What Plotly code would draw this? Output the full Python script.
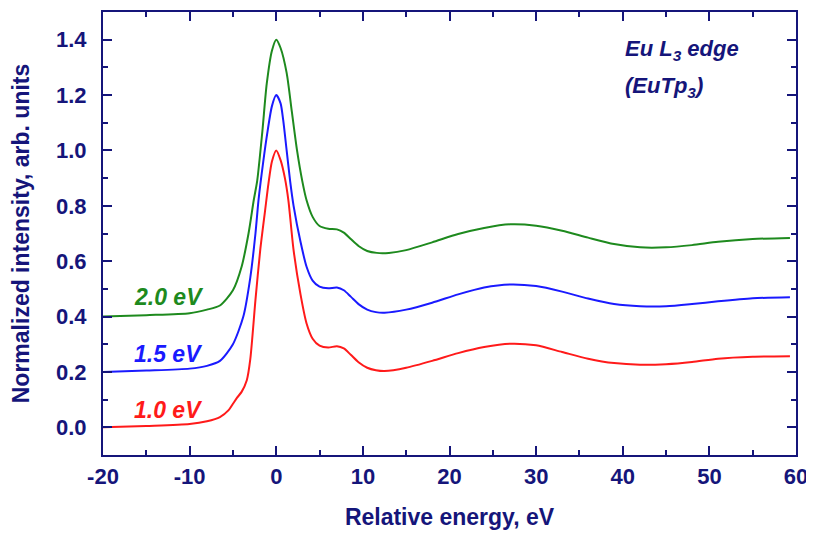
import plotly.graph_objects as go

# ---- data ----
x_red = [-20, -15, -10, -8, -6.5, -5.5, -5, -4.5, -4, -3.4, -3, -2.4, -1.85, -1.3, -0.9, -0.5, 0,
         0.5, 1.0, 1.4, 2.0, 2.8, 3.5, 4.2, 5.0, 6.0, 7.0, 7.8, 8.6, 9.5, 10.5, 11.5, 12.5, 15,
         18, 21, 24, 27, 30, 33, 36, 39, 42, 45, 48, 51, 55, 59.3]
y_red = [0.0, 0.005, 0.012, 0.022, 0.037, 0.062, 0.085, 0.108, 0.128, 0.17, 0.245, 0.46, 0.64,
         0.78, 0.88, 0.96, 1.0, 0.965, 0.9, 0.82, 0.64, 0.48, 0.375, 0.32, 0.295, 0.288, 0.293,
         0.285, 0.262, 0.235, 0.215, 0.206, 0.203, 0.215, 0.24, 0.268, 0.29, 0.302, 0.296,
         0.272, 0.248, 0.232, 0.226, 0.228, 0.236, 0.248, 0.255, 0.257]

x_blue = [-20, -15, -10, -8, -6.5, -5, -3.8, -3, -2.4, -2.05, -1.5, -1.0, -0.5, 0, 0.5, 0.8,
          1.2, 1.6, 2.0, 2.8, 3.5, 4.2, 5.0, 6.0, 7.0, 7.8, 8.6, 9.5, 10.5, 11.5, 12.5, 15, 18,
          21, 24, 27, 30, 33, 36, 39, 42, 45, 48, 51, 55, 59.3]
y_blue = [0.2, 0.205, 0.212, 0.222, 0.24, 0.30, 0.40, 0.54, 0.70, 0.82, 0.96, 1.07, 1.16, 1.2,
          1.17, 1.11, 1.0, 0.89, 0.80, 0.67, 0.58, 0.53, 0.508, 0.502, 0.505, 0.495, 0.472,
          0.445, 0.425, 0.416, 0.414, 0.425, 0.45, 0.48, 0.505, 0.516, 0.51, 0.49, 0.465,
          0.445, 0.437, 0.437, 0.445, 0.455, 0.466, 0.47]

x_green = [-20, -15, -10, -8, -6.5, -5, -4, -3.2, -2.6, -2.2, -1.6, -1.1, -0.5, 0, 0.5, 1.2,
           1.8, 2.4, 3.0, 3.5, 4.2, 5.0, 6.0, 7.0, 7.8, 8.6, 9.5, 10.5, 11.6, 13, 15, 18, 21,
           24, 27, 30, 33, 36, 39, 42, 45, 48, 51, 55, 59.3]
y_green = [0.4, 0.405, 0.412, 0.425, 0.44, 0.495, 0.58, 0.70, 0.82, 0.89, 1.07, 1.24, 1.36,
           1.4, 1.37, 1.28, 1.14, 1.0, 0.89, 0.82, 0.76, 0.727, 0.717, 0.715, 0.703, 0.68,
           0.655, 0.637, 0.63, 0.63, 0.64, 0.668, 0.698, 0.72, 0.733, 0.728, 0.71, 0.685,
           0.662, 0.65, 0.65, 0.658, 0.67, 0.68, 0.684]

series_names = ["1.0 eV", "1.5 eV", "2.0 eV"]
x_ticks = [-20, -10, 0, 10, 20, 30, 40, 50, 60]
y_ticks = [0.0, 0.2, 0.4, 0.6, 0.8, 1.0, 1.2, 1.4]

NAVY = "#15157a"
FONT = "Liberation Sans, Arial, sans-serif"
colors = ["#ff1a1a", "#1a1aff", "#1e8a1e"]

fig = go.Figure()
for xs, ys, c, n in zip([x_red, x_blue, x_green], [y_red, y_blue, y_green], colors, series_names):
    fig.add_trace(go.Scatter(x=xs, y=ys, mode="lines", name=n,
                             line=dict(color=c, width=2, shape="spline", smoothing=0.7),
                             showlegend=False))

# series labels
label_pos = [(-16.7, 0.064), (-16.7, 0.266), (-16.7, 0.469)]
for (lx, ly), c, n in zip(label_pos, colors, series_names):
    fig.add_annotation(x=lx, y=ly, text="<b><i>%s</i></b>" % n, showarrow=False,
                       xanchor="left", yanchor="middle",
                       font=dict(family=FONT, size=23, color=c))

fig.add_annotation(x=40.0, y=1.363, text="<b><i>Eu L<sub>3</sub> edge</i></b>", showarrow=False,
                   xanchor="left", yanchor="middle", font=dict(family=FONT, size=22, color=NAVY))
fig.add_annotation(x=40.0, y=1.23, text="<b><i>(EuTp<sub>3</sub>)</i></b>", showarrow=False,
                   xanchor="left", yanchor="middle", font=dict(family=FONT, size=22, color=NAVY))

axis_common = dict(showline=True, linecolor=NAVY, linewidth=2, mirror="ticks",
                   ticks="inside", ticklen=9, tickwidth=2, tickcolor=NAVY,
                   showgrid=False, zeroline=False, automargin=False,
                   tickfont=dict(family=FONT, size=22, color=NAVY, weight="bold"))

fig.update_xaxes(range=[-20, 60], tickvals=x_ticks, ticktext=[str(v) for v in x_ticks],
                 minor=dict(ticks="inside", ticklen=5, tickwidth=2, tickcolor=NAVY, dtick=5, showgrid=False),
                 title=dict(text="<b>Relative energy, eV</b>", font=dict(family=FONT, size=23, color=NAVY),
                            standoff=20),
                 ticklabelstandoff=1,
                 **axis_common)
fig.update_yaxes(range=[-0.1, 1.5], tickvals=y_ticks, ticktext=["%.1f" % v for v in y_ticks],
                 minor=dict(ticks="inside", ticklen=5, tickwidth=2, tickcolor=NAVY, dtick=0.1, showgrid=False),
                 title=dict(text="<b>Normalized intensity, arb. units</b>",
                            font=dict(family=FONT, size=23, color=NAVY), standoff=20),
                 ticklabelstandoff=10,
                 **axis_common)

# page body has an 8px default margin, so the figure is drawn 8px smaller and offset
fig.update_layout(width=806, height=526, margin=dict(l=95, r=18, t=4, b=79),
                  plot_bgcolor="white", paper_bgcolor="white")

fig.write_html("out.html")
